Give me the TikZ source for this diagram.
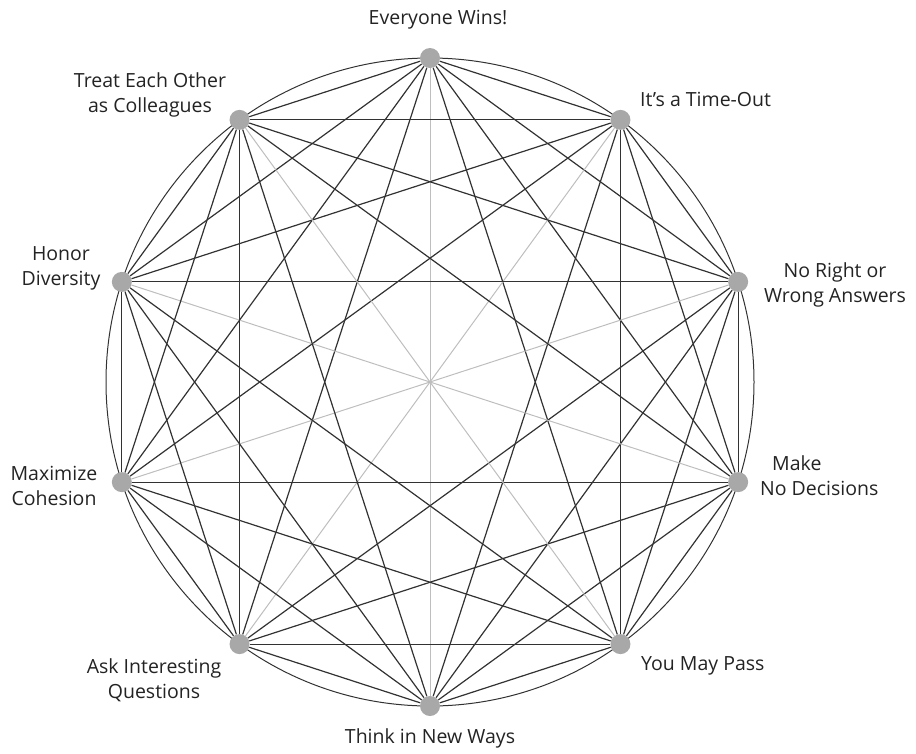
\documentclass[tikz,border=0pt]{standalone}
\usepackage{fontspec}
\setmainfont{Open Sans}
\usepackage{tikz}
\usetikzlibrary{
  positioning,
  backgrounds,
  calc
}
\definecolor{ruleInk}{RGB}{50,50,50}
\definecolor{ruleDot}{RGB}{168,168,168}
\definecolor{ruleSpoke}{RGB}{190,190,190}
\definecolor{ruleText}{RGB}{35,35,35}

\begin{document}
\begin{tikzpicture}[
  x=1pt, y=1pt,
  font=\fontsize{19.5}{25}\selectfont,
  dot/.style={
    circle,
    fill=ruleDot,
    draw=none,
    minimum size=20pt,
    inner sep=0pt
  },
  chord/.style={ruleInk, line width=1.2pt},
  spoke/.style={ruleSpoke, line width=1pt},
  rim/.style={ruleInk, line width=1pt},
  tag/.style={
    text=ruleText,
    inner sep=0pt,
    align=center
  }
]
\useasboundingbox (0,0) rectangle (916,-753);

\coordinate (hub) at (430,-382);

% the ten ground rules round the circle
\foreach \i in {0,...,9}
  \node[dot] (p\i) at ([shift={({90-36*\i}:324)}]hub) {};

% every rule joined to every other one
\begin{scope}[on background layer]
  \draw[rim] (hub) circle[radius=324];
  \foreach \i in {0,...,8}{
    \pgfmathtruncatemacro\nxt{\i+1}
    \foreach \k in {\nxt,...,9}{
      \pgfmathtruncatemacro\gap{\k-\i}
      \ifnum\gap=5
        \draw[spoke] (p\i) -- (p\k);
      \else
        \draw[chord] (p\i) -- (p\k);
      \fi
    }
  }
\end{scope}

\node[tag] (wins) at (438,-20) {Everyone Wins!};
\node[tag] (colleagues) at (150,-95) {Treat Each Other\\as Colleagues};
\node[tag, anchor=west] (timeout) at (640,-99) {It’s a Time-Out};
\node[tag] (noright) at (835,-285) {No Right or\\Wrong Answers};
\node[tag, anchor=west, align=left] (nodecide) at (760,-476)
  {\hspace*{12pt}Make\\No Decisions};
\node[tag, anchor=west] (pass) at (641,-666) {You May Pass};
\node[tag] (newways) at (430,-738) {Think in New Ways};
\node[tag] (askq) at (154,-680) {Ask Interesting\\Questions};
\node[tag] (cohesion) at (54,-486) {Maximize\\Cohesion};
\node[tag] (diversity) at (61,-268) {Honor\\Diversity};

\end{tikzpicture}
\end{document}
